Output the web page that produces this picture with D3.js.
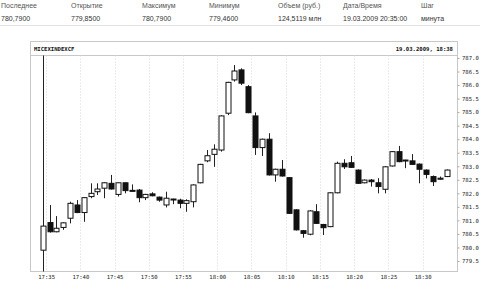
<!DOCTYPE html>
<html>
<head>
<meta charset="utf-8">
<script src="https://cdn.jsdelivr.net/npm/d3@7"></script>
<style>
  body { margin: 0; background: #fff; }
  .hdr { font-family: "Liberation Sans", Arial, sans-serif; font-size: 7px; fill: #333; }
  .hdr-label { fill: #555; }
  .mono { font-family: "DejaVu Sans Mono", monospace; font-size: 5.6px; fill: #222; }
  .title { font-family: "DejaVu Sans Mono", monospace; font-size: 5.6px; font-weight: bold; fill: #111; }
</style>
</head>
<body>
<svg width="480" height="282"></svg>
<script>
const headerLabels = ["Последнее", "Открытие", "Максимум", "Минимум", "Объем (руб.)", "Дата/Время", "Шаг"]
const headerValues = ["780,7900", "779,8500", "780,7900", "779,4600", "124,5119 млн", "19.03.2009 20:35:00", "минута"]

// minutes after 17:00, one candle per minute
const minutes = d3.range(35, 95)
const opens = [779.90, 780.92, 780.58, 780.74, 781.08, 781.57, 781.29, 781.88, 782.06, 782.19,
  782.37, 781.96, 782.39, 782.11, 782.12, 781.84, 781.98, 781.86, 781.57, 781.79,
  781.75, 781.63, 781.69, 782.39, 783.20, 783.44, 783.60, 784.96, 786.19, 786.56,
  785.94, 784.86, 783.69, 784.00, 782.68, 782.89, 782.58, 781.39, 780.62, 780.49,
  781.32, 780.85, 780.77, 782.02, 783.11, 783.13, 782.86, 782.39, 782.49, 782.39,
  782.15, 783.01, 783.54, 783.20, 783.20, 783.08, 782.86, 782.62, 782.52, 782.62]
const highs = [788.00, 781.57, 781.16, 780.93, 781.69, 781.75, 781.86, 782.37, 782.37, 782.41,
  782.68, 782.40, 782.40, 782.33, 782.16, 781.98, 782.04, 781.88, 782.06, 781.80,
  781.80, 781.78, 782.33, 783.09, 783.60, 783.81, 784.88, 786.12, 786.74, 786.62,
  786.00, 784.99, 784.02, 784.22, 782.91, 783.23, 782.60, 781.41, 780.64, 781.37,
  781.60, 780.87, 782.04, 783.17, 783.26, 783.38, 782.88, 782.51, 782.53, 782.56,
  783.00, 783.56, 783.75, 783.24, 783.45, 783.10, 782.88, 782.66, 782.62, 782.88]
const lows = [779.00, 780.55, 780.56, 780.65, 780.89, 781.27, 780.95, 781.82, 781.94, 781.82,
  782.14, 781.88, 782.00, 782.08, 781.67, 781.75, 781.89, 781.69, 781.48, 781.60,
  781.45, 781.32, 781.48, 782.37, 783.15, 782.98, 783.54, 784.89, 786.13, 786.00,
  784.96, 783.42, 783.38, 782.66, 782.43, 782.62, 781.24, 780.63, 780.36, 780.45,
  780.87, 780.46, 780.75, 782.00, 782.90, 782.94, 782.35, 782.37, 782.25, 782.00,
  782.00, 782.99, 783.15, 782.93, 783.05, 782.37, 782.55, 782.27, 782.50, 782.60]
const closes = [780.79, 780.58, 780.71, 780.91, 781.63, 781.29, 781.84, 782.00, 782.16, 782.39,
  782.16, 782.39, 782.10, 782.09, 781.84, 781.96, 781.91, 781.75, 781.82, 781.77,
  781.63, 781.73, 782.31, 783.07, 783.39, 783.63, 784.86, 786.10, 786.52, 786.07,
  784.98, 783.69, 784.00, 782.68, 782.89, 782.64, 781.26, 780.65, 780.52, 781.35,
  780.89, 780.73, 782.02, 783.11, 782.98, 782.96, 782.37, 782.49, 782.43, 782.25,
  782.98, 783.54, 783.17, 783.23, 783.07, 782.89, 782.70, 782.43, 782.56, 782.86]
const xTicks = [35, 40, 45, 50, 55, 60, 65, 70, 75, 80, 85, 90]
const yTicks = d3.range(779.5, 787.01, 0.5)
const chartTitle = "MICEXINDEXCF"
const chartStamp = "19.03.2009, 18:38"

const svg = d3.select("svg")
const width = +svg.attr("width")
const height = +svg.attr("height")

// header table
const colX = [1, 71, 142, 209, 278, 343, 421]
const hdr = svg.append("g")
hdr.selectAll(".hdr-label").data(headerLabels)
  .enter().append("text")
  .attr("class", "hdr hdr-label")
  .attr("x", (d, i) => colX[i])
  .attr("y", 8)
  .text(d => d)
hdr.selectAll(".hdr-value").data(headerValues)
  .enter().append("text")
  .attr("class", "hdr hdr-value")
  .attr("x", (d, i) => colX[i])
  .attr("y", 21)
  .text(d => d)
hdr.append("line")
  .attr("x1", 0).attr("x2", width)
  .attr("y1", 25.5).attr("y2", 25.5)
  .attr("stroke", "#e2e2e2")

// chart frame
const frame = {left: 30.5, right: 457.5, top: 41.5, head: 55.5, bottom: 271.5}

const xScale = d3.scaleLinear()
  .domain([32.72, 95.1])
  .range([frame.left, frame.right])

const yScale = d3.scaleLinear()
  .domain([779.5, 787])
  .range([261, 58])

const g = svg.append("g")

g.append("rect")
  .attr("x", frame.left).attr("y", frame.top)
  .attr("width", frame.right - frame.left)
  .attr("height", frame.bottom - frame.top)
  .attr("fill", "none")
  .attr("stroke", "#c8c8c8")

g.append("line")
  .attr("x1", frame.left).attr("x2", frame.right)
  .attr("y1", frame.head).attr("y2", frame.head)
  .attr("stroke", "#c8c8c8")

g.append("text")
  .attr("class", "title")
  .attr("x", 34)
  .attr("y", 51)
  .text(chartTitle)

g.append("text")
  .attr("class", "title")
  .attr("x", 453)
  .attr("y", 51)
  .attr("text-anchor", "end")
  .text(chartStamp)

// vertical grid
g.selectAll(".grid").data(xTicks)
  .enter().append("line")
  .attr("class", "grid")
  .attr("x1", d => Math.round(xScale(d)) + 0.5)
  .attr("x2", d => Math.round(xScale(d)) + 0.5)
  .attr("y1", frame.head)
  .attr("y2", frame.bottom)
  .attr("stroke", "#d8d8d8")
  .attr("stroke-dasharray", "1,2")

// x axis
const xAxis = d3.axisBottom(xScale)
  .tickValues(xTicks)
  .tickSize(0)
  .tickPadding(4)
  .tickFormat(m => `${17 + Math.floor(m / 60)}:${String(m % 60).padStart(2, "0")}`)

const xAxisG = g.append("g")
  .attr("transform", `translate(0, ${frame.bottom})`)
  .call(xAxis)
xAxisG.select(".domain").remove()
xAxisG.selectAll("text")
  .attr("class", "mono")
  .attr("font-family", null)
  .attr("font-size", null)

// y axis
const yAxis = d3.axisRight(yScale)
  .tickValues(yTicks)
  .tickSize(2)
  .tickPadding(2.5)
  .tickFormat(d3.format(".1f"))

const yAxisG = g.append("g")
  .attr("transform", `translate(${frame.right}, 0)`)
  .call(yAxis)
yAxisG.select(".domain").remove()
yAxisG.selectAll("line").attr("stroke", "#aaa")
yAxisG.selectAll("text")
  .attr("class", "mono")
  .attr("font-family", null)
  .attr("font-size", null)

// candles
const candles = minutes.map((m, i) => ({
  m: m, open: opens[i], high: highs[i], low: lows[i], close: closes[i]
}))

svg.append("clipPath").attr("id", "plot-clip")
  .append("rect")
  .attr("x", frame.left).attr("y", frame.head)
  .attr("width", frame.right - frame.left)
  .attr("height", frame.bottom - frame.head)

const bodyW = 5
const cx = d => Math.round(xScale(d.m - 0.5)) + 0.5

const candleG = g.append("g").attr("clip-path", "url(#plot-clip)")

candleG.selectAll(".wick").data(candles)
  .enter().append("line")
  .attr("class", "wick")
  .attr("x1", cx).attr("x2", cx)
  .attr("y1", d => yScale(d.high))
  .attr("y2", d => yScale(d.low))
  .attr("stroke", "#222")

candleG.selectAll(".body").data(candles)
  .enter().append("rect")
  .attr("class", "body")
  .attr("x", d => cx(d) - bodyW / 2)
  .attr("y", d => yScale(Math.max(d.open, d.close)))
  .attr("width", bodyW)
  .attr("height", d => Math.max(1, Math.abs(yScale(d.open) - yScale(d.close))))
  .attr("fill", d => d.close >= d.open ? "#fff" : "#111")
  .attr("stroke", "#111")
</script>
</body>
</html>
